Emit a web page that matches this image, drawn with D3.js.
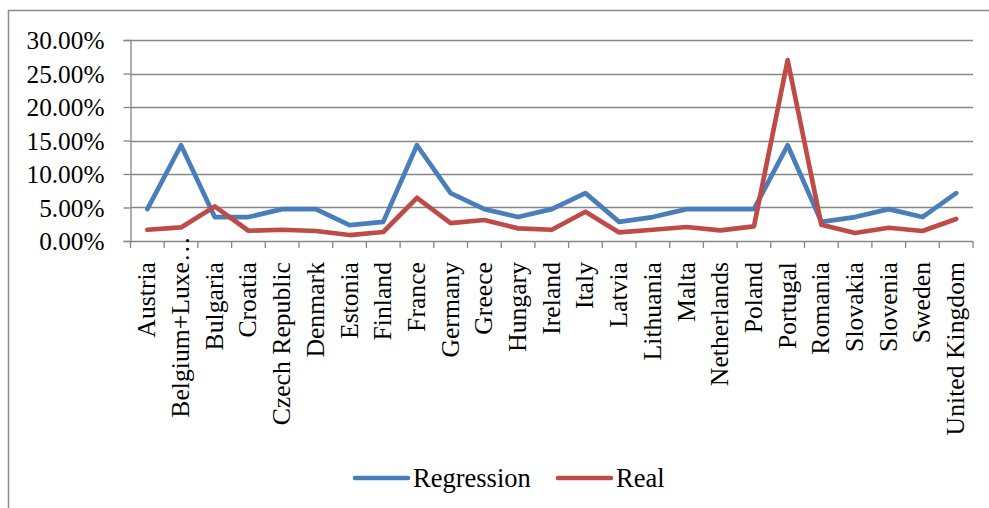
<!DOCTYPE html>
<html>
<head>
<meta charset="utf-8">
<script src="https://cdn.jsdelivr.net/npm/d3@7"></script>
<style>
  html, body { margin: 0; padding: 0; background: #fff; }
  svg { display: block; }
  text { font-family: "Liberation Serif", "Times New Roman", serif; fill: #000; }
</style>
</head>
<body>
<svg id="chart" width="989" height="508"></svg>
<script>
// Countries along the x axis
const countries = [
  "Austria", "Belgium+Luxe…", "Bulgaria", "Croatia", "Czech Republic", "Denmark",
  "Estonia", "Finland", "France", "Germany", "Greece", "Hungary", "Ireland",
  "Italy", "Latvia", "Lithuania", "Malta", "Netherlands", "Poland", "Portugal",
  "Romania", "Slovakia", "Slovenia", "Sweden", "United Kingdom"
];

// Shares (fractions) per country
const regression = [
  0.0476, 0.1429, 0.0357, 0.0357, 0.0476, 0.0476, 0.0238, 0.0286, 0.1429, 0.0714,
  0.0476, 0.0357, 0.0476, 0.0714, 0.0286, 0.0357, 0.0476, 0.0476, 0.0476, 0.1429,
  0.0286, 0.0357, 0.0476, 0.0357, 0.0714
];
const real = [
  0.0168, 0.0203, 0.0516, 0.0153, 0.0168, 0.0149, 0.0089, 0.0134, 0.0645, 0.0268,
  0.0313, 0.0188, 0.0168, 0.0437, 0.0128, 0.0168, 0.0209, 0.0158, 0.0218, 0.2700,
  0.0243, 0.0119, 0.0198, 0.0149, 0.0328
];

const yTicks = [0, 0.05, 0.10, 0.15, 0.20, 0.25, 0.30];
const seriesNames = ["Regression", "Real"];
const seriesColors = ["#4A7EBB", "#BE4B48"];

const svg = d3.select("#chart");
const plotLeft = 130.5, plotRight = 973, plotTop = 40, plotBottom = 241;

// Outer chart frame (right and bottom edges fall outside the view)
svg.append("rect")
  .attr("x", 8.5).attr("y", 10.5)
  .attr("width", 1000).attr("height", 520)
  .attr("fill", "none").attr("stroke", "#8c8c8c").attr("stroke-width", 1.5);

const x = d3.scaleBand().domain(countries).range([plotLeft, plotRight]).padding(0);
const y = d3.scaleLinear().domain([0, 0.30]).range([plotBottom, plotTop]);

// Horizontal gridlines
svg.append("g")
  .selectAll("line")
  .data(yTicks.filter(t => t > 0))
  .join("line")
  .attr("x1", plotLeft).attr("x2", plotRight)
  .attr("y1", d => Math.round(y(d)) + 0.5).attr("y2", d => Math.round(y(d)) + 0.5)
  .attr("stroke", "#868686").attr("stroke-width", 1.3);

// Y axis
const yAxis = svg.append("g")
  .attr("transform", `translate(${plotLeft},0)`)
  .call(d3.axisLeft(y).tickValues(yTicks).tickFormat(d3.format(".2%")).tickSize(7).tickPadding(19));
yAxis.select(".domain").attr("stroke", "#868686").attr("stroke-width", 1.3);
yAxis.selectAll(".tick line").attr("stroke", "#868686").attr("stroke-width", 1.3);
yAxis.selectAll(".tick text")
  .attr("font-family", "Liberation Serif, Times New Roman, serif")
  .attr("font-size", 25.3).attr("fill", "#000").attr("dy", "0.34em");

// X axis with tick marks at category boundaries
const xAxisG = svg.append("g").attr("transform", `translate(0,${plotBottom})`);
xAxisG.append("line")
  .attr("x1", plotLeft).attr("x2", plotRight).attr("y1", 0.5).attr("y2", 0.5)
  .attr("stroke", "#868686").attr("stroke-width", 1.3);
const boundaries = countries.map(c => x(c)).concat([plotRight]);
xAxisG.selectAll("line.tick")
  .data(boundaries)
  .join("line")
  .attr("class", "tick")
  .attr("x1", d => d).attr("x2", d => d)
  .attr("y1", 0).attr("y2", 7)
  .attr("stroke", "#868686").attr("stroke-width", 1.3);

// Rotated category labels; a truncated label lets its ellipsis run past the top
const labelY = 21;
const catLabels = xAxisG.selectAll("g.cat")
  .data(countries)
  .join("g")
  .attr("class", "cat")
  .attr("transform", d => `translate(${x(d) + x.bandwidth() / 2 + 8},${labelY}) rotate(-90)`);
catLabels.append("text")
  .attr("text-anchor", "end")
  .attr("font-size", 25.7)
  .text(d => d.endsWith("…") ? d.slice(0, -1) : d);
catLabels.filter(d => d.endsWith("…"))
  .append("text")
  .attr("text-anchor", "start")
  .attr("font-size", 25.7)
  .text("…");

// Series lines
const line = d3.line()
  .x((d, i) => x(countries[i]) + x.bandwidth() / 2)
  .y(d => y(d));

[regression, real].forEach((vals, k) => {
  svg.append("path")
    .datum(vals)
    .attr("d", line)
    .attr("fill", "none")
    .attr("stroke", seriesColors[k])
    .attr("stroke-width", 4.7)
    .attr("stroke-linejoin", "round")
    .attr("stroke-linecap", "round");
});

// Legend
const legendItems = [
  { name: seriesNames[0], color: seriesColors[0], x0: 355 },
  { name: seriesNames[1], color: seriesColors[1], x0: 558 }
];
const legend = svg.append("g");
legendItems.forEach(it => {
  legend.append("line")
    .attr("x1", it.x0).attr("x2", it.x0 + 53)
    .attr("y1", 478).attr("y2", 478)
    .attr("stroke", it.color).attr("stroke-width", 4.7)
    .attr("stroke-linecap", "round");
  legend.append("text")
    .attr("x", it.x0 + 58).attr("y", 478)
    .attr("dy", "0.34em")
    .attr("font-size", 26.5)
    .text(it.name);
});
</script>
</body>
</html>
